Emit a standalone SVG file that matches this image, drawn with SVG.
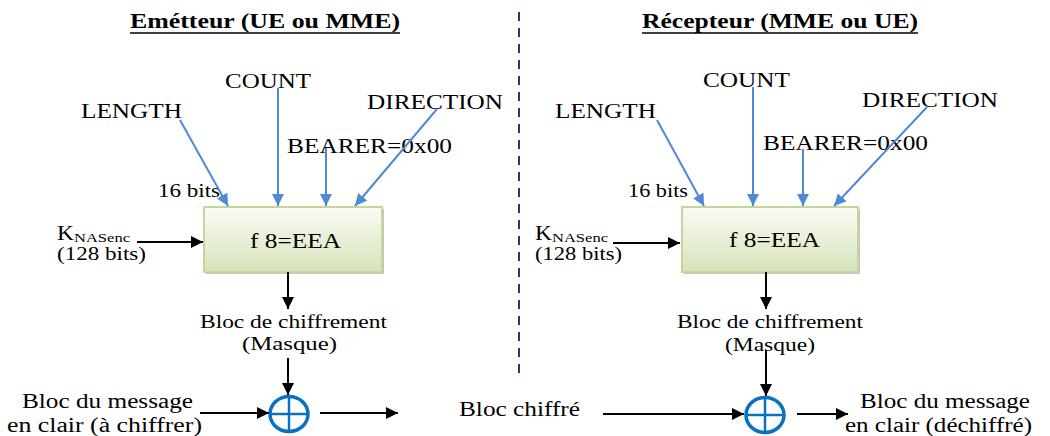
<svg xmlns="http://www.w3.org/2000/svg" width="1050" height="436" viewBox="0 0 1050 436">
<style>
text{font-family:"Liberation Serif","Times New Roman",serif;fill:#000;}
.t{font-size:20px;}
.s{font-size:18px;}
.sub{font-size:13px;}
.title{font-size:20px;font-weight:bold;}
.blue{stroke:#5089d4;stroke-width:2;fill:none;marker-end:url(#ab);}
.blk{stroke:#000;stroke-width:2;fill:none;marker-end:url(#ak);}
.box{fill:url(#g);stroke:#c3d69b;stroke-width:2;}
.shadow{fill:#c4c4c4;}
.xor{fill:none;stroke:#0a70c0;stroke-width:3.5;}
.xl{stroke:#0a70c0;stroke-width:2.5;}
</style>
<defs>
<linearGradient id="g" x1="0" y1="0" x2="0" y2="1">
<stop offset="0" stop-color="#fafcf4"/>
<stop offset="1" stop-color="#d6e3ba"/>
</linearGradient>
<marker id="ab" markerUnits="userSpaceOnUse" markerWidth="14" markerHeight="14" refX="12" refY="6" orient="auto">
<path d="M0,0 L12,6 L0,12 z" fill="#5089d4"/>
</marker>
<marker id="ak" markerUnits="userSpaceOnUse" markerWidth="14" markerHeight="14" refX="12" refY="6" orient="auto">
<path d="M0,0 L12,6 L0,12 z" fill="#000"/>
</marker>
</defs>

<g id="titles">
<text class="title" x="130" y="28" textLength="270" lengthAdjust="spacingAndGlyphs">Emétteur (UE ou MME)</text>
<line x1="130" y1="33" x2="400" y2="33" stroke="#000" stroke-width="1.5"/>
<text class="title" x="642" y="28" textLength="276" lengthAdjust="spacingAndGlyphs">Récepteur (MME ou UE)</text>
<line x1="642" y1="33" x2="918" y2="33" stroke="#000" stroke-width="1.5"/>
</g>

<g id="separator">
<line x1="519" y1="12" x2="519" y2="380" stroke="#1f3c78" stroke-width="2" stroke-dasharray="9 7"/>
</g>

<g id="sender">
<g id="s-box">
<rect class="shadow" x="206" y="209" width="178" height="65"/>
<rect class="box" x="204" y="207" width="178" height="65"/>
<text class="t" x="250" y="248" textLength="91" lengthAdjust="spacingAndGlyphs">f 8=EEA</text>
</g>
<g id="s-length"><text class="t" x="81" y="118" textLength="101" lengthAdjust="spacingAndGlyphs">LENGTH</text></g>
<g id="s-count"><text class="t" x="225" y="88" textLength="86" lengthAdjust="spacingAndGlyphs">COUNT</text></g>
<g id="s-direction"><text class="t" x="367" y="109" textLength="136" lengthAdjust="spacingAndGlyphs">DIRECTION</text></g>
<g id="s-bearer"><text class="t" x="287" y="153" textLength="165" lengthAdjust="spacingAndGlyphs">BEARER=0x00</text></g>
<g id="s-16bits"><text class="s" x="158" y="197" textLength="62" lengthAdjust="spacingAndGlyphs">16 bits</text></g>
<g id="s-key">
<text class="t" x="57" y="240" textLength="17" lengthAdjust="spacingAndGlyphs">K</text>
<text class="sub" x="74" y="242" textLength="56" lengthAdjust="spacingAndGlyphs">NASenc</text>
<text class="s" x="57" y="260" textLength="89" lengthAdjust="spacingAndGlyphs">(128 bits)</text>
</g>
<g id="s-keystream">
<text class="s" x="200" y="328" textLength="187" lengthAdjust="spacingAndGlyphs">Bloc de chiffrement</text>
<text class="s" x="242" y="350" textLength="95" lengthAdjust="spacingAndGlyphs">(Masque)</text>
</g>
<g id="s-plain">
<text class="t" x="22" y="408" textLength="171" lengthAdjust="spacingAndGlyphs">Bloc du message</text>
<text class="t" x="7" y="432" textLength="195" lengthAdjust="spacingAndGlyphs">en clair (à chiffrer)</text>
</g>
<g id="s-xor">
<ellipse class="xor" cx="289" cy="414" rx="19" ry="17.5"/>
<line class="xl" x1="270" y1="414" x2="308" y2="414"/>
<line class="xl" x1="289" y1="396.5" x2="289" y2="431.5"/>
</g>
</g>

<g id="cipher">
<text class="t" x="459" y="416" textLength="121" lengthAdjust="spacingAndGlyphs">Bloc chiffré</text>
</g>

<g id="receiver">
<g id="r-box">
<rect class="shadow" x="684" y="209" width="176" height="65"/>
<rect class="box" x="682" y="207" width="176" height="65"/>
<text class="t" x="729" y="247" textLength="91" lengthAdjust="spacingAndGlyphs">f 8=EEA</text>
</g>
<g id="r-length"><text class="t" x="555" y="118" textLength="101" lengthAdjust="spacingAndGlyphs">LENGTH</text></g>
<g id="r-count"><text class="t" x="703" y="87" textLength="87" lengthAdjust="spacingAndGlyphs">COUNT</text></g>
<g id="r-direction"><text class="t" x="862" y="107" textLength="136" lengthAdjust="spacingAndGlyphs">DIRECTION</text></g>
<g id="r-bearer"><text class="t" x="763" y="150" textLength="165" lengthAdjust="spacingAndGlyphs">BEARER=0x00</text></g>
<g id="r-16bits"><text class="s" x="628" y="197" textLength="60" lengthAdjust="spacingAndGlyphs">16 bits</text></g>
<g id="r-key">
<text class="t" x="535" y="240" textLength="17" lengthAdjust="spacingAndGlyphs">K</text>
<text class="sub" x="552" y="242" textLength="56" lengthAdjust="spacingAndGlyphs">NASenc</text>
<text class="s" x="535" y="260" textLength="87" lengthAdjust="spacingAndGlyphs">(128 bits)</text>
</g>
<g id="r-keystream">
<text class="s" x="677" y="328" textLength="186" lengthAdjust="spacingAndGlyphs">Bloc de chiffrement</text>
<text class="s" x="725" y="351" textLength="90" lengthAdjust="spacingAndGlyphs">(Masque)</text>
</g>
<g id="r-plain">
<text class="t" x="860" y="408" textLength="170" lengthAdjust="spacingAndGlyphs">Bloc du message</text>
<text class="t" x="845" y="432" textLength="187" lengthAdjust="spacingAndGlyphs">en clair (déchiffré)</text>
</g>
<g id="r-xor">
<ellipse class="xor" cx="765" cy="415" rx="19" ry="17.5"/>
<line class="xl" x1="746" y1="415" x2="784" y2="415"/>
<line class="xl" x1="765" y1="397.5" x2="765" y2="432.5"/>
</g>
</g>

<g id="connectors">
<line class="blue" x1="180" y1="120" x2="228" y2="206"/>
<line class="blue" x1="278" y1="88" x2="278" y2="206"/>
<line class="blue" x1="326" y1="148" x2="326" y2="206"/>
<line class="blue" x1="437" y1="109" x2="355" y2="206"/>
<line class="blk" x1="137" y1="242" x2="203" y2="242"/>
<line class="blk" x1="288" y1="272" x2="288" y2="309"/>
<line class="blk" x1="288" y1="358" x2="288" y2="395"/>
<line class="blk" x1="200" y1="413" x2="269" y2="413"/>
<line class="blk" x1="320" y1="413" x2="398" y2="413"/>

<line class="blue" x1="657" y1="120" x2="704" y2="206"/>
<line class="blue" x1="753" y1="87" x2="753" y2="206"/>
<line class="blue" x1="803" y1="149" x2="803" y2="206"/>
<line class="blue" x1="927" y1="107" x2="834" y2="206"/>
<line class="blk" x1="613" y1="243" x2="680" y2="243"/>
<line class="blk" x1="766" y1="272" x2="766" y2="309"/>
<line class="blk" x1="766" y1="350" x2="766" y2="396"/>
<line class="blk" x1="603" y1="414" x2="744" y2="414"/>
<line class="blk" x1="797" y1="414" x2="848" y2="414"/>
</g>
</svg>
